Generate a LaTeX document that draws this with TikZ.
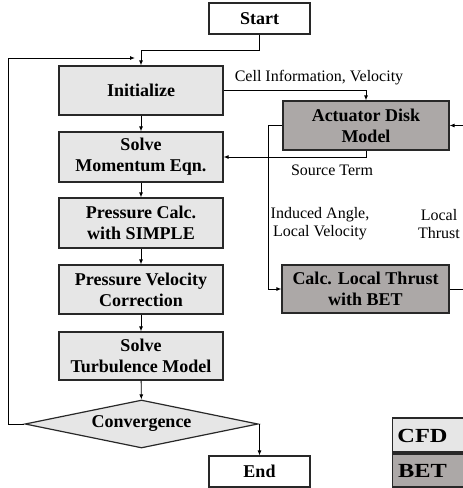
\documentclass[tikz,border=0pt]{standalone}
\usepackage{fontspec}
\setmainfont{Liberation Serif}
\usetikzlibrary{arrows.meta,shapes.geometric,calc}

\definecolor{cfdgray}{RGB}{230,230,230}
\definecolor{betgray}{RGB}{172,168,167}
\definecolor{edge}{RGB}{40,40,40}

\tikzset{
  box/.style={draw=edge, line width=1.2pt, align=center, inner sep=0pt,
    font=\fontsize{18}{21}\selectfont\bfseries},
  termbox/.style={box, fill=white, minimum width=101pt, minimum height=31pt},
  cfdbox/.style={box, fill=cfdgray, minimum width=164pt, minimum height=49pt},
  betbox/.style={box, fill=betgray, minimum width=166pt, minimum height=49pt},
  decide/.style={draw=edge, line width=1.2pt, fill=cfdgray, diamond, aspect=4.85,
    minimum width=233pt, minimum height=48pt, inner sep=0pt,
    font=\fontsize{18}{21}\selectfont\bfseries},
  flow/.style={draw=black, line width=0.9pt, -{Latex[length=5pt,width=4pt]}},
  lbl/.style={align=center, inner sep=0pt, font=\fontsize{16}{18}\selectfont},
  legendtxt/.style={inner sep=0pt, xscale=1.22, font=\fontsize{20}{22}\selectfont\bfseries}
}

\begin{document}
\begin{tikzpicture}[x=1pt, y=-1pt]
\clip (0,0) rectangle (463,488);

% solver chain
\node[termbox] (start) at (259.5,18.5) {Start};
\node[cfdbox] (init) at (141,90.5) {Initialize};
\node[cfdbox, minimum height=50pt] (mom) at (141,157) {Solve\\Momentum Eqn.};
\node[cfdbox, minimum height=50pt] (pres) at (141,223) {Pressure Calc.\\with SIMPLE};
\node[cfdbox] (pvc) at (141,289.5) {Pressure Velocity\\Correction};
\node[cfdbox, minimum height=48pt] (turb) at (141,356) {Solve\\Turbulence Model};
\node[decide] (conv) at (141.5,424) {Convergence};
\node[termbox] (end) at (259.5,471.5) {End};

% rotor model
\node[betbox] (adm) at (366,125.5) {Actuator Disk\\Model};
\node[betbox, minimum width=167pt, minimum height=48pt] (bet) at (365.5,289) {Calc. Local Thrust\\with BET};

% legend
\node[box, fill=cfdgray, minimum width=90pt, minimum height=34pt, anchor=west] (legcfd) at (392,435) {};
\node[box, fill=betgray, minimum width=90pt, minimum height=33pt, anchor=west] (legbet) at (392,470.5) {};
\node[legendtxt] (legcfdt) at (422.5,435.5) {CFD};
\node[legendtxt] (legbett) at (422.5,471) {BET};

% main flow
\coordinate (startbend) at (259.5,50);
\draw[flow] (start.south) -- (startbend) -| (init.north);
\draw[flow] (init) -- (mom);
\draw[flow] (mom) -- (pres);
\draw[flow] (pres) -- (pvc);
\draw[flow] (pvc) -- (turb);
\draw[flow] (turb) -- (conv);
\draw[flow] (conv.east) -| (end.north);

% iteration loop
\coordinate (loopleft) at (8,424);
\coordinate (looptop) at (8,58);
\coordinate (loopend) at (135,58);
\draw[flow] (conv.west) -- (loopleft) -- (looptop) -- (loopend);

% coupling with the actuator disk
\draw[flow] (init.east) -| (adm.north);
\coordinate (srcbend) at (366,157);
\draw[flow] (adm.south) -- (srcbend) -- (mom.east);
\coordinate (indbend) at (268,125.5);
\draw[flow] (adm.west) -- (indbend) |- (bet.west);
\coordinate (thrustright) at (480,289);
\draw[flow] (bet.east) -- (thrustright) |- (adm.east);

% connector labels
\node[lbl] (lcell) at (319,78) {Cell Information, Velocity};
\node[lbl] (lsrc) at (332,170) {Source Term};
\node[lbl] (lind) at (320,224) {Induced Angle,\\Local Velocity};
\node[lbl] (lthr) at (439,224) {Local\\Thrust};
\end{tikzpicture}
\end{document}
